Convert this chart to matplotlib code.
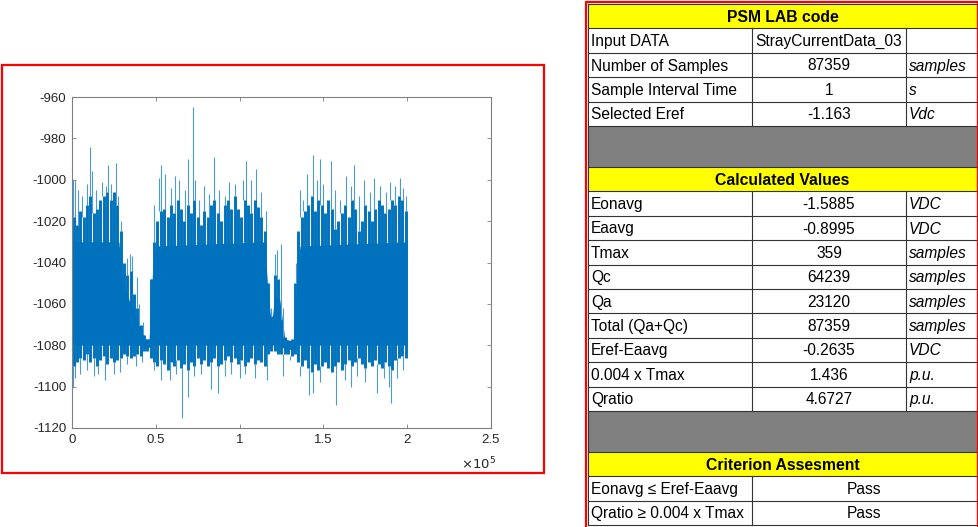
import numpy as np
import matplotlib.pyplot as plt
from matplotlib.patches import Rectangle

plt.rcParams['axes.unicode_minus'] = False
plt.rcParams['font.family'] = ['Liberation Sans']

# ---- signal ----
# dense body of the trace (knots, x in units of 1e5 samples)
body_x = [0.00, 0.28, 0.30, 0.34, 0.40, 0.44, 0.46, 0.48, 0.50, 1.15, 1.17, 1.19, 1.21,
          1.24, 1.27, 1.32, 1.34, 1.36, 2.00]
body_hi = [-1030, -1030, -1048, -1058, -1070, -1077, -1077, -1045, -1032, -1030, -1055,
           -1070, -1056, -1058, -1077, -1078, -1050, -1032, -1030]
body_lo = [-1080, -1080, -1080, -1080, -1080, -1081, -1081, -1080, -1080, -1080, -1080,
           -1080, -1080, -1080, -1082, -1082, -1080, -1080, -1080]

# max / min of each 2000-sample bin
BIN = 2000
bin_max = [
    -1018, -1022, -1015, -1018, -1012, -1008, -1016, -1014, -1010, -1008,
    -1006, -1010, -1006, -1012, -1025, -1040, -1046, -1044, -1055, -1062,
    -1070, -1075, -1077, -1048, -1030, -1020, -1015, -1014, -1018, -1012,
    -1016, -1010, -1014, -1020, -1012, -1016, -1010, -1018, -1022, -1015,
    -1018, -1012, -1010, -1016, -1020, -1012, -1010, -1014, -1008, -1014,
    -1018, -1010, -1012, -1016, -1010, -1013, -1018, -1025, -1050, -1066,
    -1046, -1048, -1068, -1076, -1078, -1077, -1050, -1025, -1018, -1015,
    -1012, -1008, -1015, -1010, -1012, -1016, -1010, -1014, -1024, -1020,
    -1016, -1012, -1018, -1010, -1014, -1025, -1020, -1012, -1015, -1020,
    -1014, -1010, -1012, -1016, -1014, -1010, -1012, -1008, -1010, -1015,
]
bin_min = [
    -1090, -1088, -1086, -1087, -1084, -1088, -1086, -1090, -1087, -1085,
    -1089, -1086, -1088, -1087, -1086, -1084, -1085, -1086, -1085, -1084,
    -1085, -1083, -1083, -1086, -1088, -1090, -1087, -1089, -1092, -1088,
    -1090, -1087, -1091, -1089, -1092, -1088, -1090, -1086, -1089, -1087,
    -1090, -1088, -1086, -1090, -1089, -1087, -1085, -1088, -1086, -1089,
    -1087, -1090, -1088, -1086, -1089, -1087, -1088, -1090, -1084, -1083,
    -1083, -1084, -1084, -1084, -1084, -1085, -1084, -1088, -1090, -1087,
    -1091, -1093, -1089, -1092, -1090, -1088, -1091, -1093, -1090, -1088,
    -1092, -1089, -1087, -1090, -1088, -1086, -1089, -1091, -1088, -1090,
    -1087, -1089, -1091, -1088, -1090, -1092, -1087, -1086, -1085, -1086,
]
# isolated spikes (x in units of 1e5 samples)
up_x = [0.004, 0.02, 0.035, 0.06, 0.09, 0.11, 0.12, 0.145, 0.18, 0.205, 0.215, 0.235,
        0.26, 0.275, 0.29, 0.33, 0.345, 0.36, 0.385, 0.40, 0.425, 0.47, 0.49, 0.52,
        0.53, 0.555, 0.59, 0.615, 0.64, 0.675, 0.695, 0.72, 0.735, 0.76, 0.79, 0.815,
        0.85, 0.88, 0.91, 0.935, 0.975, 1.02, 1.04, 1.07, 1.10, 1.13, 1.155, 1.185,
        1.21, 1.225, 1.245, 1.26, 1.335, 1.36, 1.38, 1.40, 1.435, 1.46, 1.48, 1.50,
        1.545, 1.57, 1.60, 1.635, 1.665, 1.68, 1.71, 1.745, 1.78, 1.80, 1.84, 1.875,
        1.90, 1.925, 1.955, 1.975, 1.995]
up_y = [-1000, -1000, -1005, -1008, -1002, -984, -996, -1005, -1001, -1003, -993, -1002,
        -992, -1008, -1020, -1038, -1036, -1037, -1047, -1060, -1069, -1050, -1012, -999,
        -993, -997, -1004, -998, -1000, -1005, -990, -965, -1000, -1010, -1003, -1007,
        -989, -1005, -1008, -1001, -1002, -1000, -991, -1000, -995, -1006, -1015, -1062,
        -1036, -1034, -1031, -1062, -1040, -1005, -1010, -997, -988, -1000, -990, -1002,
        -991, -1005, -1010, -998, -1003, -993, -1008, -1000, -1006, -999, -1003, -1006,
        -1001, -1003, -999, -1004, -1008]
dn_x = [0.005, 0.02, 0.05, 0.09, 0.13, 0.155, 0.195, 0.25, 0.285, 0.33, 0.38, 0.42,
        0.49, 0.53, 0.585, 0.62, 0.655, 0.695, 0.73, 0.77, 0.83, 0.87, 0.91, 0.95,
        1.0, 1.035, 1.09, 1.165, 1.26, 1.30, 1.36, 1.415, 1.435, 1.48, 1.575, 1.63,
        1.665, 1.70, 1.75, 1.82, 1.86, 1.89, 1.905, 1.94, 1.975]
dn_y = [-1100, -1096, -1094, -1092, -1095, -1094, -1097, -1094, -1093, -1089, -1090, -1088,
        -1092, -1097, -1097, -1094, -1115, -1105, -1095, -1094, -1101, -1103, -1095, -1094,
        -1096, -1094, -1096, -1097, -1095, -1087, -1095, -1104, -1103, -1098, -1109, -1097,
        -1100, -1095, -1098, -1103, -1096, -1100, -1108, -1096, -1092]

# ---- table ----
inputs = [("Input DATA", "StrayCurrentData_03", ""),
          ("Number of Samples", "87359", "samples"),
          ("Sample Interval Time", "1", "s"),
          ("Selected Eref", "-1.163", "Vdc")]
calculated = [("Eonavg", "-1.5885", "VDC"),
              ("Eaavg", "-0.8995", "VDC"),
              ("Tmax", "359", "samples"),
              ("Qc", "64239", "samples"),
              ("Qa", "23120", "samples"),
              ("Total (Qa+Qc)", "87359", "samples"),
              ("Eref-Eaavg", "-0.2635", "VDC"),
              ("0.004 x Tmax", "1.436", "p.u."),
              ("Qratio", "4.6727", "p.u.")]
criteria = [("Eonavg \u2264 Eref-Eaavg", "Pass"),
            ("Qratio \u2265 0.004 x Tmax", "Pass")]

W, H = 979, 527
fig = plt.figure(figsize=(W / 100, H / 100), dpi=100)

# red frame around the plot
fig.patches.append(Rectangle((2 / W, 1 - 473 / H), 542 / W, 408 / H, transform=fig.transFigure,
                             fill=False, edgecolor='#ff0000', linewidth=1.6))

ax = fig.add_axes([72 / W, 1 - 428 / H, 419 / W, 331 / H])
blue = '#0072BD'
light = '#4a9bd6'

top = np.array(bin_max)
bot = np.array(bin_min)
ux = np.array(up_x) * 1e5
dx = np.array(dn_x) * 1e5
ui = np.minimum((ux // BIN).astype(int), len(top) - 1)
di = np.minimum((dx // BIN).astype(int), len(top) - 1)
# spikes first, starting at the edge of their bin, so the body covers their roots
ax.vlines(ux, top[ui], up_y, color=light, linewidth=0.8)
ax.vlines(dx, bot[di], dn_y, color=light, linewidth=0.8)

centers = (np.arange(len(bin_max)) + 0.5) * BIN
ax.vlines(centers, bin_min, bin_max, color=blue, linewidth=2.1)
ax.fill_between(np.array(body_x) * 1e5, body_hi, body_lo, color=blue, linewidth=0)

ax.set_xlim(0, 2.5e5)
ax.set_ylim(-1120, -960)
ax.set_xticks(np.arange(0, 2.51e5, 0.5e5))
ax.set_xticklabels(['0', '0.5', '1', '1.5', '2', '2.5'])
ax.set_yticks(np.arange(-1120, -959, 20))
ax.tick_params(direction='in', top=True, right=True, length=3, width=0.6, pad=4,
               colors='#808080', labelcolor='#262626', labelsize=9.5)
for s in ax.spines.values():
    s.set_color('#808080')
    s.set_linewidth(0.8)
ax.text(1.012, -0.085, r'$\times10^{5}$', transform=ax.transAxes, ha='right', va='top',
        fontsize=9.5, color='#262626')

# ---- table drawn in pixel coordinates ----
tb = fig.add_axes([0, 0, 1, 1])
tb.set_xlim(0, W)
tb.set_ylim(H, 0)
tb.axis('off')

x0, c1, c2, x3 = 588, 752, 906, 977
rh, gh = 24.4, 41.0
fs = 11.2


def line(xa, ya, xb, yb):
    tb.plot([xa, xb], [ya, yb], color='#333333', linewidth=0.8)


def header(y, label):
    tb.add_patch(Rectangle((x0, y), x3 - x0, rh, facecolor='#ffff00', edgecolor='none'))
    tb.text((x0 + x3) / 2, y + rh / 2 + 1, label, ha='center', va='center',
            fontsize=11.3, fontweight='bold')
    line(x0, y + rh, x3, y + rh)
    return y + rh


def rows(y, data):
    for r in data:
        tb.text(x0 + 3, y + rh / 2 + 1, r[0], ha='left', va='center', fontsize=fs)
        if len(r) == 3:
            tb.text((c1 + c2) / 2, y + rh / 2 + 1, r[1], ha='center', va='center', fontsize=fs)
            tb.text(c2 + 3, y + rh / 2 + 1, r[2], ha='left', va='center', fontsize=fs,
                    style='italic')
            line(c2, y, c2, y + rh)
        else:
            tb.text((c1 + x3) / 2, y + rh / 2 + 1, r[1], ha='center', va='center', fontsize=fs)
        line(c1, y, c1, y + rh)
        line(x0, y + rh, x3, y + rh)
        y += rh
    return y


def gray(y):
    tb.add_patch(Rectangle((x0, y), x3 - x0, gh, facecolor='#808080', edgecolor='none'))
    line(x0, y + gh, x3, y + gh)
    return y + gh


y = 4
line(x0, y, x3, y)
y = header(y, 'PSM LAB code')
y = rows(y, inputs)
y = gray(y)
y = header(y, 'Calculated Values')
y = rows(y, calculated)
y = gray(y)
y = header(y, 'Criterion Assesment')
y = rows(y, criteria)
line(x0, 4, x0, y)
line(x3, 4, x3, y)
# red outer frame of the table
tb.plot([x0 - 1.5, x0 - 1.5, x3 + 1.5, x3 + 1.5], [H, 2, 2, H], color='#ff0000', linewidth=1.6)

fig.savefig('out.png', dpi=100)
